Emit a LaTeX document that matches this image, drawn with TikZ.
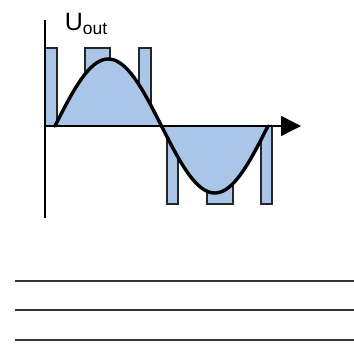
\documentclass[tikz,border=0pt]{standalone}
\usepackage{fontspec}
\setmainfont{Liberation Sans}
\usetikzlibrary{arrows.meta}

\begin{document}
\begin{tikzpicture}[x=1pt,y=-1pt,line width=1.5pt,
  pulse/.style={fill=pulseblue,draw=black!85,line width=1.4pt},
  wave/.style={line width=3.4pt,line join=round,line cap=round},
  rule/.style={line width=2pt,draw=black!80}]
  \definecolor{pulseblue}{HTML}{A9C5E8}
  \useasboundingbox (0,0) rectangle (354,345);

  \coordinate (origin) at (45,126);
  \coordinate (ytop) at (45,20);
  \coordinate (ybot) at (45,218);
  \coordinate (xend) at (301,126);

  % pulses above and below the axis
  \foreach \xa/\xb in {45/57,85/110,139/151}
    \draw[pulse] (\xa,48) rectangle (\xb,126);
  \foreach \xa/\xb in {167/178,207/233,261/272}
    \draw[pulse] (\xa,126) rectangle (\xb,204);

  \fill[pulseblue] plot[domain=0:360,samples=90,smooth]
    ({55+\x*0.5917},{126-67*sin(\x)}) -- cycle;

  \draw (ybot) -- (ytop);
  \draw[-{Triangle[length=20pt,width=20pt]}] (origin) -- (xend);
  \node[font=\fontsize{25}{25}\selectfont,anchor=base west,inner sep=0pt]
    (uout) at (64,31) {U\textsubscript{out}};

  \draw[wave] plot[domain=0:360,samples=90,smooth]
    ({55+\x*0.5917},{126-67*sin(\x)});

  \coordinate (r1a) at (15,281); \coordinate (r1b) at (354,281);
  \coordinate (r2a) at (15,310); \coordinate (r2b) at (354,310);
  \coordinate (r3a) at (15,340); \coordinate (r3b) at (354,340);
  \draw[rule] (r1a) -- (r1b);
  \draw[rule] (r2a) -- (r2b);
  \draw[rule] (r3a) -- (r3b);
\end{tikzpicture}
\end{document}
